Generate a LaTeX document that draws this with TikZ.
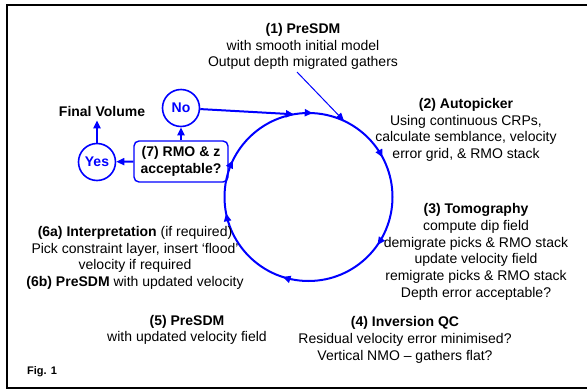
\documentclass[tikz,border=0pt]{standalone}
\usepackage{fontspec}
\setmainfont{Liberation Sans}
\usetikzlibrary{arrows.meta,decorations.markings,calc}
\begin{document}
\begin{tikzpicture}[x=1pt,y=-1pt,
  txt/.style={align=center,font=\fontsize{14}{16.7}\selectfont,inner sep=0pt},
  answer/.style={circle,draw=blue,line width=1.6pt,minimum size=37pt,inner sep=0pt,
    text=blue,font=\fontsize{14}{16.7}\selectfont\bfseries},
  querybox/.style={draw=blue,line width=1.4pt,rounded corners=5pt,align=center,
    minimum width=94pt,minimum height=41pt,inner sep=0pt,
    font=\fontsize{14}{16.7}\selectfont\bfseries},
  tip/.style={-{Triangle[length=8pt,width=7pt]}},
  link/.style={tip,draw=blue,line width=2pt},
  loopmark/.style={decoration={markings,
    mark=at position #1 with {\arrow{Triangle[length=8pt,width=7pt]}}}}
]
\useasboundingbox (0,0) rectangle (587,389);
% frame, open on the right
\draw[line width=2pt] (587,5) -- (7,5) -- (7,388) -- (587,388);

% the iteration loop
\coordinate (c) at (308.5,197);
\draw[blue,line width=2pt,
  postaction={loopmark=0.097,decorate},
  postaction={loopmark=0.300,decorate},
  postaction={loopmark=0.469,decorate},
  postaction={loopmark=0.572,decorate},
  postaction={loopmark=0.758,decorate},
  postaction={loopmark=0.922,decorate}]
  (c) ++(0:84) arc[start angle=0,end angle=360,radius=84];

\coordinate (noend) at ($(c)+(-100:84)$);
\coordinate (c1) at ($(c)+(-65:84)$);

% stage texts
\node[txt] (p1) at (303,46.5) {\textbf{(1) PreSDM}\\with smooth initial model\\Output depth migrated gathers};
\node[txt] (p2) at (466,130) {\textbf{(2) Autopicker}\\Using continuous CRPs,\\calculate semblance, velocity\\error grid, \& RMO stack};
\node[txt] (p3) at (476,252) {\textbf{(3) Tomography}\\compute dip field\\demigrate picks \& RMO stack\\update velocity field\\remigrate picks \& RMO stack\\Depth error acceptable?};
\node[txt] (p4) at (405,340) {\textbf{(4) Inversion QC}\\Residual velocity error minimised?\\Vertical NMO -- gathers flat?};
\node[txt] (p5) at (187,330) {\textbf{(5) PreSDM}\\with updated velocity field};
\node[txt] (p6) at (135,258) {\textbf{(6a) Interpretation} (if required)\\Pick constraint layer, insert `flood'\\velocity if required\\\textbf{(6b) PreSDM} with updated velocity};

% decision
\node[querybox] (q7) at (181,161.5) {(7) RMO \& z\\acceptable?};
\node[answer] (no) at (181,108) {No};
\node[answer] (yes) at (97,162) {Yes};
\node[txt,font=\fontsize{14}{16.7}\selectfont\bfseries,inner sep=4pt] (final) at (102,111) {Final Volume};

\draw[link] (q7.north) -- (no);
\draw[link] (q7.west) -- (yes);
\draw[link] (yes) -- (yes |- final.south);
\draw[link] (no) -- (noend);

\coordinate (p1foot) at (297,72);
\draw[tip,blue,line width=1pt] (p1foot) -- (c1);

\node[font=\fontsize{11}{13}\selectfont\bfseries,inner sep=0pt] (fig) at (42,372) {Fig. 1};
\end{tikzpicture}
\end{document}
